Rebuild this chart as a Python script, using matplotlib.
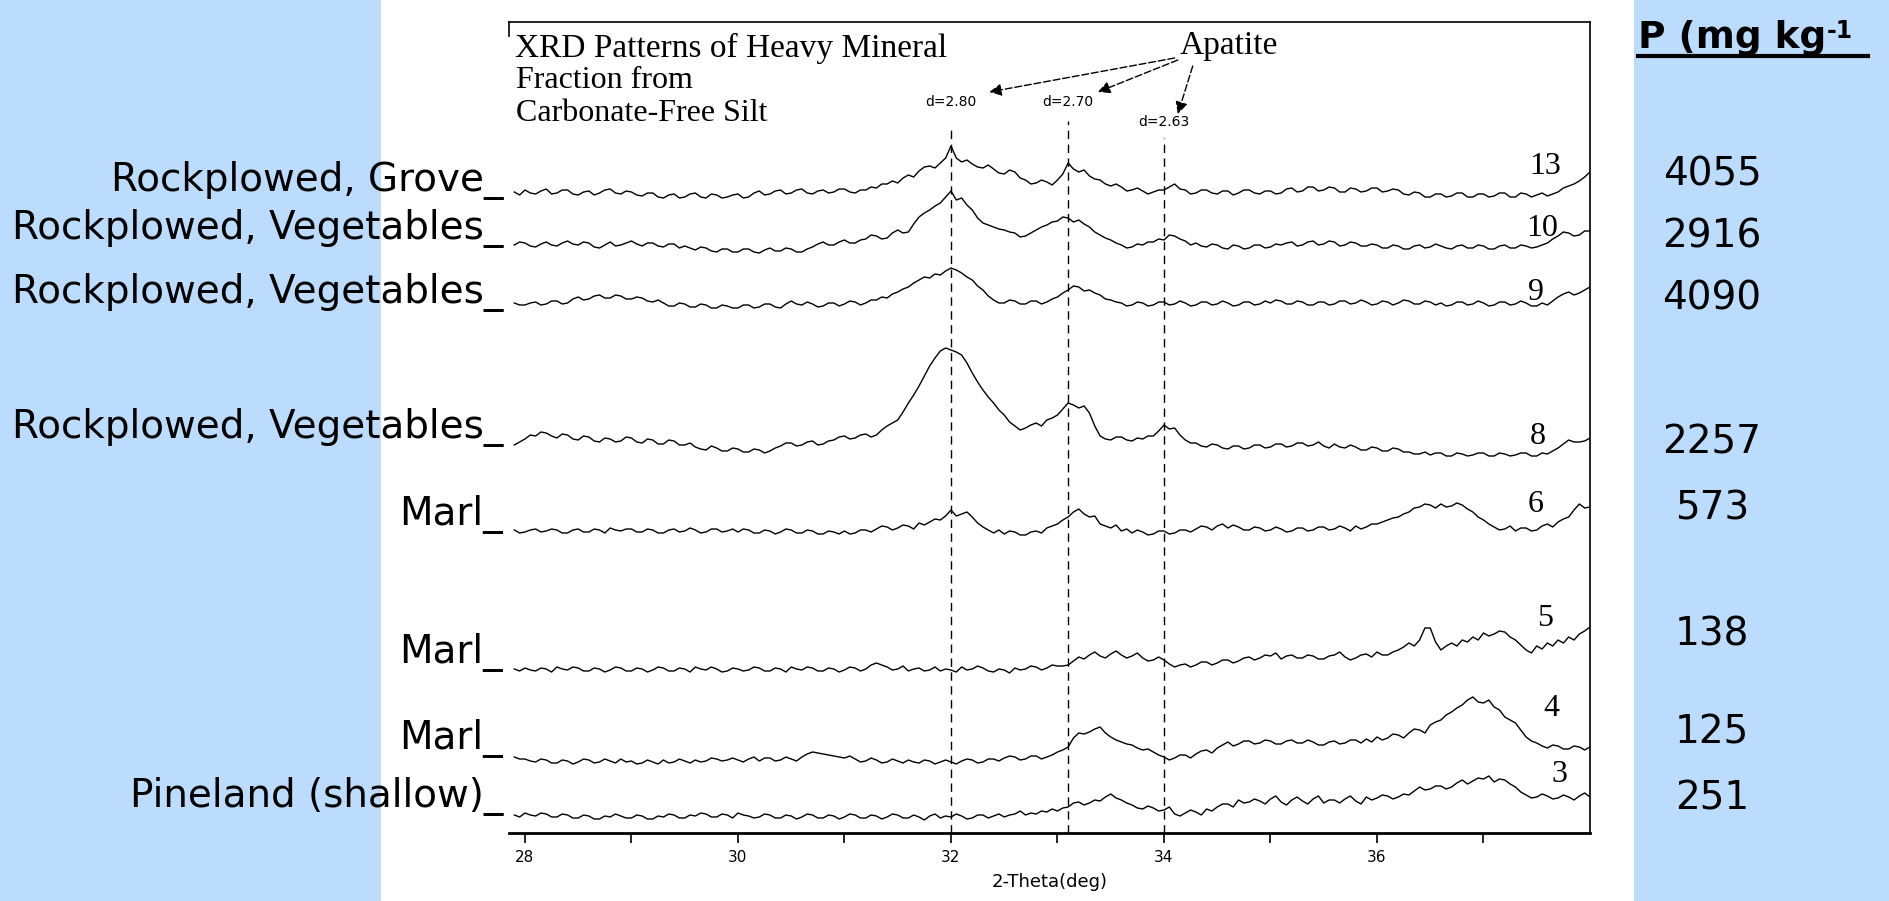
import numpy as np
import matplotlib.pyplot as plt
from matplotlib.patches import Rectangle
from matplotlib.lines import Line2D

W, H = 1889, 901

# sample numbers, land use and total P for each pattern (top to bottom)
samples = ["13", "10", "9", "8", "6", "5", "4", "3"]
land_use = ["Rockplowed, Grove_", "Rockplowed, Vegetables_", "Rockplowed, Vegetables_",
            "Rockplowed, Vegetables_", "Marl_", "Marl_", "Marl_", "Pineland (shallow)_"]
p_values = ["4055", "2916", "4090", "2257", "573", "138", "125", "251"]

# vertical stacking offset of each pattern (counts)
offsets = [637, 586, 528, 385, 301, 163, 73, 16]

# apatite reflections
apatite_d = ["2.80", "2.70", "2.63"]
apatite_2theta = [32.0, 33.1, 34.0]

# intensity above baseline, 2-theta 27.9 .. 38.0 in 0.05 deg steps
p13 = [4, 1,
       6, 3, 2, 5, 7, 2, 3, 6, 6, 2, 1, 4, 5, 1, 3, 6, 7, 3, 2, 5,
       4, 1, 0, 3, 3, -1, -2, 1, 2, -2, -1, 2, 3, -1, -2, 2, 1, -2, -1, 1,
       2, -2, -1, 3, 5, 1, 2, 5, 6, 2, 3, 6, 7, 3, 2, 5, 6, 3, 4, 7,
       7, 4, 3, 6, 6, 9, 8, 12, 12, 15, 13, 18, 21, 19, 25, 29, 30, 28, 33, 38,
       50, 38, 34, 36, 32, 29, 28, 31, 27, 23, 22, 26, 24, 18, 16, 12, 13, 16, 14, 11,
       16, 22, 33, 27, 24, 26, 20, 17, 16, 12, 10, 12, 9, 5, 6, 8, 5, 2, 4, 6,
       6, 9, 12, 7, 6, 2, 3, 6, 6, 3, 2, 5, 5, 1, 3, 6, 6, 3, 2, 5,
       5, 2, 3, 7, 8, 4, 5, 9, 9, 5, 6, 9, 8, 4, 4, 8, 7, 4, 5, 8,
       8, 4, 5, 7, 6, 2, 1, 4, 3, -1, -1, 2, 2, -1, 0, 3, 3, -1, -1, 2,
       2, -1, 0, 3, 3, -1, -1, 3, 2, -1, 1, 3, 0, 2, 4, 8, 10, 12, 15, 19,
       24]
p10 = [2, 5,
       4, 1, 0, 3, 5, 2, 1, 4, 6, 3, 2, 5, 4, 0, -1, 2, 5, 1, 2, 4,
       6, 3, 1, 4, 4, 1, 0, 3, 3, -1, 1, -1, -3, 0, -1, -4, -5, -2, -2, -5,
       -5, -2, -2, -5, -6, -3, -1, -4, -4, -1, -2, -5, -5, -2, 0, 3, 5, 2, 2, 5,
       7, 4, 4, 7, 8, 12, 11, 8, 9, 14, 17, 14, 15, 23, 30, 34, 37, 41, 44, 50,
       56, 47, 49, 42, 37, 29, 24, 22, 20, 18, 17, 15, 14, 10, 11, 14, 17, 20, 22, 25,
       26, 30, 29, 25, 27, 23, 20, 15, 12, 9, 7, 4, 2, -1, 0, 3, 2, 5, 5, 8,
       7, 12, 11, 8, 6, 2, 4, 1, 0, 3, 2, -1, -2, 2, 1, -2, -1, 2, 2, -1,
       0, 3, 2, 4, 5, 1, 2, 5, 6, 2, 3, 6, 5, 1, 2, 5, 4, 1, 1, 3,
       2, -1, -1, 2, 1, -2, -2, 1, 2, -1, 0, 3, 1, -1, -2, 1, 2, -1, -1, 2,
       1, -2, -2, 1, 2, -1, -1, 2, 1, -1, 0, 2, 4, 8, 11, 15, 14, 11, 12, 16,
       16]
p9 = [2, 0,
      0, 2, 3, 0, 1, 4, 4, 1, 2, 6, 8, 5, 6, 9, 10, 7, 7, 10, 9, 6,
      6, 8, 7, 4, 3, 5, 2, -1, -1, 2, 1, -2, -2, 1, 0, -3, -3, 0, -1, -3,
      -3, 0, 0, -3, -2, 1, 1, -2, -3, 1, 4, 1, 0, 3, 1, -2, -1, 2, 2, -1,
      1, 4, 3, 0, 2, 5, 5, 8, 7, 11, 13, 16, 18, 22, 25, 28, 27, 31, 30, 34,
      37, 35, 32, 28, 25, 19, 15, 9, 5, 2, 2, 5, 4, 1, 1, 4, 4, 1, 3, 6,
      8, 12, 15, 19, 18, 14, 15, 12, 10, 6, 5, 3, 2, -1, 0, 3, 2, -1, 0, 3,
      3, 0, 1, 4, 2, -1, 0, 3, 3, 0, 1, 4, 2, -1, 0, 3, 3, 0, 1, 4,
      2, 5, 4, 1, 1, 4, 3, 0, 0, 3, 3, 0, 1, 4, 4, 1, 2, 5, 3, 0,
      1, 4, 3, 0, 2, 5, 4, 1, 1, 4, 3, 0, 2, -1, 0, 3, 3, 0, 1, 4,
      2, -1, 0, 3, 3, 0, 1, 4, 2, -1, -1, 2, 0, 4, 8, 11, 13, 10, 12, 15,
      18]
p8 = [3, 6,
      9, 13, 12, 16, 15, 12, 10, 14, 13, 9, 8, 12, 11, 7, 6, 10, 9, 6, 7, 11,
      10, 6, 5, 9, 8, 4, 4, 8, 7, 3, 3, 5, 1, -1, -2, 2, 0, -3, -3, 0,
      -1, -4, -4, -1, -2, -5, -3, 0, 2, 5, 5, 2, 3, 6, 7, 3, 4, 7, 8, 11,
      12, 9, 10, 13, 14, 11, 13, 18, 22, 25, 28, 36, 45, 53, 62, 72, 82, 90, 97, 100,
      98, 96, 93, 85, 75, 66, 58, 51, 45, 38, 33, 26, 22, 18, 20, 23, 25, 22, 28, 30,
      33, 39, 45, 43, 40, 42, 35, 22, 12, 9, 8, 11, 11, 8, 7, 10, 9, 12, 12, 17,
      23, 19, 20, 13, 8, 5, 5, 2, 1, 4, 3, 0, -1, 2, 2, -1, 0, 3, 3, 0,
      1, 4, 4, 1, 2, 5, 5, 2, 3, 6, 2, 0, 4, 1, 0, 3, 1, -2, -2, 1,
      0, -3, -3, 0, -1, -4, -4, -6, -6, -4, -7, -5, -5, -8, -8, -5, -6, -8, -7, -5,
      -5, -8, -8, -5, -6, -8, -7, -5, -5, -8, -8, -5, -6, -3, 0, 4, 8, 6, 6, 7,
      10]
p6 = [2, -1,
      0, 2, 3, 0, 1, 3, 2, -1, -1, 2, 3, 0, 0, 3, 2, -1, 4, 2, 1, 3,
      3, 0, 0, 3, 2, -1, -1, 2, 3, 0, 1, 4, 2, -1, 0, 3, 3, 0, 1, 3,
      0, 3, 2, -1, -1, 2, 1, -2, 0, 3, 2, -1, -1, 2, 1, -2, -2, 1, 0, -2,
      1, -2, -1, 2, 2, 0, 3, 6, 5, 2, 4, 7, 6, 3, 9, 7, 10, 13, 12, 16,
      22, 16, 18, 20, 15, 9, 5, 2, -1, 2, -2, 1, 0, -3, -3, 0, 1, -1, 4, 6,
      8, 12, 15, 20, 23, 18, 15, 16, 8, 6, 4, 7, 1, 3, -1, 2, 0, -3, -2, 1,
      1, -2, -1, 2, 2, 0, 3, 6, 5, 2, 6, 8, 4, 7, 5, 2, 2, 5, 4, 1,
      2, 5, 3, 0, 1, 4, 4, 1, 2, 5, 5, 2, 3, 6, 4, 1, 6, 3, 5, 8,
      8, 10, 12, 14, 15, 18, 20, 24, 25, 28, 27, 24, 28, 25, 26, 29, 27, 23, 20, 15,
      12, 8, 5, 2, 3, 6, 1, 4, 4, 1, 2, 6, 8, 5, 10, 13, 15, 22, 28, 24,
      25]
p5 = [1, -1,
      2, 0, -1, 2, 1, -2, 3, 1, 0, 3, 2, -1, -1, 2, 1, -2, 0, 3, 2, -1,
      -1, 2, 1, -2, 0, 3, 2, -1, -1, 2, 1, -2, 3, 1, 0, 3, 1, -2, -1, 2,
      1, -1, 0, 3, 2, -1, -1, 2, 1, -2, 3, 1, 0, 3, 2, -1, -1, 2, 1, -2,
      0, 3, 2, -1, 1, 5, 7, 5, 3, 0, 1, 4, -1, 1, 2, -1, 0, 3, -1, 1,
      0, -2, 3, 0, 1, 4, 2, -1, -2, 1, 0, -3, 2, 0, 1, 4, 3, 0, 2, 5,
      4, 4, 5, 9, 13, 11, 15, 18, 14, 12, 16, 19, 15, 12, 14, 17, 12, 9, 10, 13,
      10, 6, 3, 5, 6, 3, 5, 8, 8, 5, 7, 10, 10, 7, 9, 12, 13, 10, 12, 15,
      14, 17, 11, 14, 15, 12, 12, 15, 14, 11, 11, 14, 15, 18, 13, 10, 12, 15, 16, 13,
      18, 15, 15, 18, 20, 23, 27, 24, 30, 42, 42, 28, 20, 24, 27, 24, 30, 28, 33, 30,
      37, 34, 36, 39, 38, 33, 30, 25, 20, 17, 24, 21, 27, 24, 30, 27, 33, 30, 36, 39,
      43]
p4 = [3, 1,
      1, -1, -2, 1, 0, -3, -3, 0, -1, -4, -2, 1, 0, -3, -2, 1, -1, -3, 1, -2,
      -1, -4, -3, 0, -2, -4, 0, -3, -2, 1, -1, -3, 0, -2, -1, 2, 1, -1, 0, 2,
      0, -2, 1, 3, -1, 2, 2, -1, 0, 3, 1, -1, 3, 6, 8, 7, 6, 5, 4, 3,
      2, 4, 1, -2, -1, 2, 0, -3, -2, 1, -1, -3, 0, -2, -3, 0, -1, -4, -2, 0,
      -2, -4, -1, 1, 0, -3, -2, 1, 1, -1, 2, 4, 3, 0, 1, 4, 4, 1, 3, 5,
      8, 10, 13, 22, 27, 26, 28, 31, 33, 27, 23, 20, 18, 16, 15, 12, 10, 11, 8, 5,
      3, 0, 2, 5, 5, 2, 6, 9, 10, 7, 12, 15, 18, 14, 16, 19, 19, 16, 17, 20,
      19, 16, 16, 19, 20, 17, 17, 20, 18, 15, 15, 18, 19, 16, 17, 20, 20, 17, 21, 18,
      23, 20, 22, 26, 25, 22, 27, 31, 30, 27, 35, 38, 40, 45, 48, 52, 55, 60, 63, 58,
      57, 60, 53, 50, 43, 40, 37, 30, 23, 19, 17, 14, 12, 15, 14, 11, 11, 14, 13, 10,
      13]
p3 = [2, 0,
      4, 2, 1, 4, 3, 0, 0, 3, 2, -1, -1, 2, 1, -2, -2, 1, 0, 3, 1, -1,
      -1, 2, 1, -2, -2, 1, 0, 3, 2, -1, -1, 2, 1, 4, 3, 0, 0, 3, 2, -1,
      4, 2, 1, -1, 0, 3, 2, -1, -1, 2, 1, -2, 0, 3, 2, -1, -1, 2, 1, -2,
      0, 3, 2, -1, -1, 2, 1, -2, 0, 3, 2, -1, -1, 2, 0, -3, 1, 3, -1, 1,
      0, 3, 1, -2, -1, 2, 2, -1, 1, 3, 0, 2, 3, 6, 2, 4, 3, 6, 5, 8,
      6, 9, 10, 14, 15, 12, 14, 17, 16, 20, 23, 19, 17, 14, 12, 9, 8, 11, 9, 6,
      7, 10, 3, 1, 4, 7, 5, 2, 8, 6, 10, 13, 13, 10, 17, 14, 15, 18, 16, 13,
      18, 21, 15, 12, 17, 20, 16, 13, 18, 21, 14, 17, 17, 14, 18, 21, 16, 13, 20, 17,
      19, 22, 21, 18, 20, 23, 22, 26, 30, 27, 28, 31, 31, 28, 30, 34, 37, 33, 36, 39,
      38, 41, 35, 38, 37, 33, 30, 25, 22, 19, 20, 23, 21, 18, 19, 22, 20, 17, 21, 24,
      20]
patterns = [p13, p10, p9, p8, p6, p5, p4, p3]

# text positions (pixels of the full picture)
label_y = [180, 228, 292, 428, 515, 653, 738, 797]
pval_y = [175, 237, 299, 443, 508, 635, 732, 799]
num_pos = [(37.58, 667), (37.55, 604), (37.49, 541), (37.51, 397),
           (37.49, 329), (37.58, 214), (37.64, 125), (37.71, 58)]

blue = "#bbdcfd"
serif = ["Liberation Serif", "DejaVu Serif"]

fig = plt.figure(figsize=(W / 100, H / 100), dpi=100)
fig.patch.set_facecolor(blue)
fig.add_artist(Rectangle((381 / W, 0), (1634 - 381) / W, 1, transform=fig.transFigure,
                         facecolor="white", edgecolor="none", zorder=0))

ax = fig.add_axes([509 / W, 1 - 833 / H, (1590 - 509) / W, (833 - 22) / H])
ax.patch.set_alpha(0)

for y, off in zip(patterns, offsets):
    x = np.linspace(27.9, 38.0, len(y))
    ax.plot(x, np.array(y) + off, color="black", lw=1.0)

for x0, top in zip(apatite_2theta, [708, 712, 695]):
    ax.plot([x0, x0], [0, top], color="black", lw=1.0, ls=(0, (6, 4)))

for s, (xn, yn) in zip(samples, num_pos):
    ax.text(xn, yn, s, fontsize=23, family=serif, ha="center", va="center")

ax.set_xlim(27.85, 38.0)
ax.set_ylim(0, 811)
ax.set_yticks([])
ax.set_xticks(range(28, 38))
ax.set_xticklabels(["28", "", "30", "", "32", "", "34", "", "36", ""], fontsize=11)
ax.tick_params(axis="x", length=7, width=1.2, pad=5)
ax.spines["bottom"].set_linewidth(2)
ax.spines["top"].set_linewidth(1.2)
ax.spines["right"].set_linewidth(1.2)
ax.spines["left"].set_bounds(797, 811)
ax.spines["left"].set_linewidth(1.2)
ax.set_xlabel("2-Theta(deg)", fontsize=13, labelpad=6)

# title block and apatite annotation
ax.text(27.91, 785, "XRD Patterns of Heavy Mineral", fontsize=24, family=serif, va="center")
ax.text(27.92, 767, "Fraction from\nCarbonate-Free Silt", fontsize=23, family=serif,
        va="top", linespacing=1.2)
ax.text(34.15, 787, "Apatite", fontsize=24, family=serif, va="center")

for x0, d in zip(apatite_2theta, apatite_d):
    yl = 711 if d == "2.63" else 731
    ax.text(x0, yl, "d=" + d, fontsize=10, ha="center", va="center")

arrows = [((34.10, 775), (32.36, 741)), ((34.13, 773), (33.38, 741)), ((34.27, 767), (34.13, 719))]
for tail, tip in arrows:
    ax.annotate("", xy=tip, xytext=tail,
                arrowprops=dict(arrowstyle="-|>", color="black", lw=1.0, ls=(0, (5, 2)),
                                mutation_scale=18, shrinkA=0, shrinkB=0))

# land-use labels on the left, P values on the right
for lab, y in zip(land_use, label_y):
    fig.text(503 / W, 1 - y / H, lab, fontsize=28, ha="right", va="center")
for p, y in zip(p_values, pval_y):
    fig.text(1712 / W, 1 - y / H, p, fontsize=28, ha="center", va="center")

head = fig.text(1638 / W, 1 - 38 / H, "P (mg kg", fontsize=27, weight="bold", va="center")
ax.annotate("-1", xy=(1.0, 1.02), xycoords=head, fontsize=17, weight="bold",
            ha="left", va="top", annotation_clip=False)
fig.add_artist(Line2D([1638 / W, 1868 / W], [1 - 56 / H, 1 - 56 / H], color="black",
                      lw=3, transform=fig.transFigure))

fig.savefig("out.png", dpi=100, facecolor=fig.get_facecolor())
